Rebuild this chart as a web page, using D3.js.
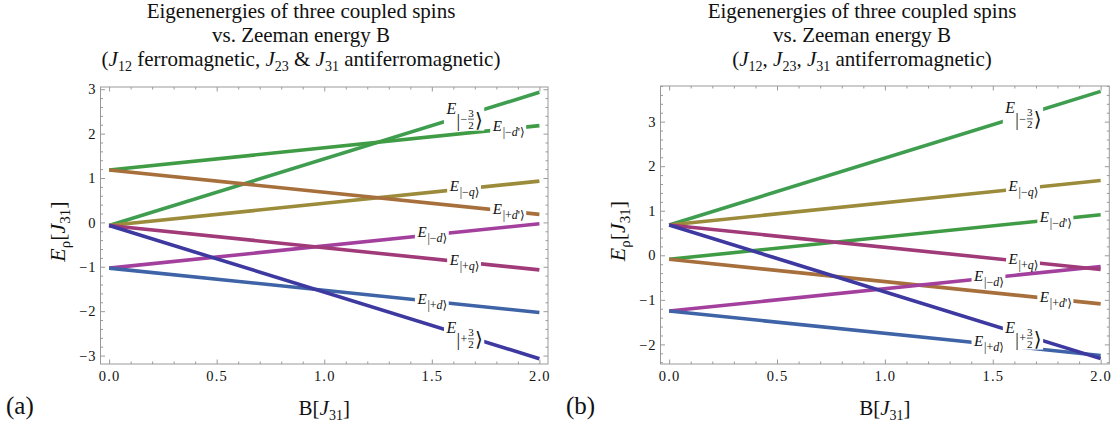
<!DOCTYPE html>
<html>
<head>
<meta charset="utf-8">
<script src="https://cdn.jsdelivr.net/npm/d3@7"></script>
<style>
  body { margin: 0; background: #fff; }
  svg text { font-family: "Liberation Serif", "Times New Roman", serif; fill: #111; }
</style>
</head>
<body>
<svg id="chart" width="1119" height="425"></svg>
<script>
// B range (lines are straight between the two ends)
var bValues = [0, 2];

// levels, same order in both panels
var levelKeys = ["-3/2", "-d'", "-q", "+d'", "-d", "+q", "+d", "+3/2"];
var levelColors = ["#3e9d4f", "#3f9c45", "#9c8b3b", "#a66f3c", "#a3409e", "#a03a78", "#3e63a6", "#3d39a0"];

// panel (a): J12 ferro, J23 & J31 antiferro
var energyStartA = [-0.07, 1.18, -0.07, 1.18, -1.03, -0.07, -1.03, -0.07];
var energyEndA   = [2.93, 2.18, 0.93, 0.18, -0.03, -1.07, -2.03, -3.07];
var labelAtA     = [1.65, 1.855, 1.65, 1.855, 1.5, 1.65, 1.5, 1.65];

// panel (b): all antiferro
var energyStartB = [0.68, -0.09, 0.68, -0.09, -1.25, 0.68, -1.25, 0.68];
var energyEndB   = [3.68, 0.91, 1.68, -1.09, -0.25, -0.32, -2.25, -2.32];
var labelAtB     = [1.64, 1.79, 1.64, 1.79, 1.48, 1.64, 1.48, 1.64];

var xTicks = [0, 0.5, 1, 1.5, 2];
var yTicksA = [-3, -2, -1, 0, 1, 2, 3];
var yTicksB = [-2, -1, 0, 1, 2, 3];

var svg = d3.select("#chart");

var panels = [
  {
    left: 100.5, right: 548, top: 87, bottom: 364,
    yDomain: [-3.19, 3.05], starts: energyStartA, ends: energyEndA, labelAt: labelAtA, yTicks: yTicksA,
    titleX: 301, yLabelX: 65, tag: "(a)", tagX: 6,
    title3: [["(", ""], ["J", "i"], ["12", "s"], [" ferromagnetic, ", ""], ["J", "i"], ["23", "s"], [" & ", ""], ["J", "i"], ["31", "s"], [" antiferromagnetic)", ""]]
  },
  {
    left: 660.5, right: 1109.3, top: 86, bottom: 364,
    yDomain: [-2.44, 3.80], starts: energyStartB, ends: energyEndB, labelAt: labelAtB, yTicks: yTicksB,
    titleX: 862, yLabelX: 625, tag: "(b)", tagX: 566,
    title3: [["(", ""], ["J", "i"], ["12", "s"], [", ", ""], ["J", "i"], ["23", "s"], [", ", ""], ["J", "i"], ["31", "s"], [" antiferromagnetic)", ""]]
  }
];

function richText(sel, parts, subSize, shift) {
  var down = false;
  parts.forEach(function(p) {
    var t = sel.append("tspan").text(p[0]);
    if (p[1] == "i") t.style("font-style", "italic");
    if (p[1] == "s") {
      t.style("font-size", subSize + "px").attr("dy", shift);
      down = true;
    } else if (down) {
      t.attr("dy", -shift);
      down = false;
    }
  });
}

function addLabel(g, key, cx, cy) {
  var sign = key[0] == "-" ? "\u2212" : "+";
  var rest = key.slice(1);
  var lg = g.append("g");
  if (rest == "3/2") {
    lg.append("text").attr("x", 0).attr("y", 0).style("font-style", "italic").style("font-size", "16px").text("E");
    lg.append("text").attr("x", 10).attr("y", 13).style("font-size", "18px").text("|");
    lg.append("text").attr("x", 14).attr("y", 9.5).style("font-size", "12px").text(sign);
    lg.append("text").attr("x", 24.5).attr("y", 3).attr("text-anchor", "middle").style("font-size", "11px").text("3");
    lg.append("line").attr("x1", 21.5).attr("x2", 27.5).attr("y1", 5.5).attr("y2", 5.5)
      .attr("stroke", "#111").attr("stroke-width", 0.7);
    lg.append("text").attr("x", 24.5).attr("y", 15).attr("text-anchor", "middle").style("font-size", "11px").text("2");
    lg.append("text").attr("x", 28.5).attr("y", 13).style("font-family", "'DejaVu Serif', serif").style("font-size", "20px").text("\u27e9");
  } else {
    lg.append("text").attr("x", 0).attr("y", 0).style("font-style", "italic").style("font-size", "15px").text("E");
    var sub = lg.append("text").attr("x", 10).attr("y", 5).style("font-size", "12px");
    sub.append("tspan").text("|" + sign);
    sub.append("tspan").style("font-style", "italic").text(rest[0]);
    if (rest.length > 1) sub.append("tspan").text("'");
    sub.append("tspan").style("font-family", "'DejaVu Serif', serif").text("\u27e9");
  }
  var bb = lg.node().getBBox();
  var pad = 1.5;
  lg.insert("rect", ":first-child")
    .attr("x", bb.x - pad).attr("y", bb.y + 2)
    .attr("width", bb.width + 2 * pad).attr("height", bb.height - 3)
    .attr("fill", "#fff");
  lg.attr("transform", "translate(" + (cx - bb.x - bb.width / 2) + "," + (cy - bb.y - bb.height / 2) + ")");
}

panels.forEach(function(p) {
  var x = d3.scaleLinear().domain([-0.04, 2.04]).range([p.left, p.right]);
  var y = d3.scaleLinear().domain(p.yDomain).range([p.bottom, p.top]);
  var g = svg.append("g");

  // title, three centred lines
  var tt = g.append("text").style("font-size", "21px");
  tt.append("tspan").attr("x", p.titleX).attr("y", 17.5).attr("text-anchor", "middle").text("Eigenenergies of three coupled spins");
  tt.append("tspan").attr("x", p.titleX).attr("y", 41.5).attr("text-anchor", "middle").text("vs. Zeeman energy B");
  richText(tt, p.title3, 14, 5);
  var pieces = tt.selectAll("tspan").filter(function(d, i) { return i >= 2; });
  var w = 0;
  pieces.each(function() { w += this.getComputedTextLength(); });
  pieces.filter(function(d, i) { return i == 0; }).attr("x", p.titleX - w / 2).attr("y", 65.5);

  // frame
  g.append("rect")
    .attr("x", p.left).attr("y", p.top)
    .attr("width", p.right - p.left).attr("height", p.bottom - p.top)
    .attr("fill", "none").attr("stroke", "#9a9a9a").attr("stroke-width", 1);

  var xMinor = d3.range(0, 21).map(function(i) { return i / 10; }).filter(function(v) { return xTicks.indexOf(v) < 0; });
  var yMinor = d3.range(Math.ceil(p.yDomain[0] * 5), Math.floor(p.yDomain[1] * 5) + 1)
    .map(function(i) { return i / 5; })
    .filter(function(v) { return Math.abs(v - Math.round(v)) > 1e-6; });

  function ticks(axis, tr, vals, size, labels) {
    var a = g.append("g").attr("transform", tr)
      .call(axis.tickValues(vals).tickSize(size).tickPadding(6)
        .tickFormat(labels ? labels : function() { return ""; }));
    a.select(".domain").remove();
    a.selectAll("line").attr("stroke", "#9a9a9a");
    a.selectAll("text").style("font-family", "'Liberation Serif', serif").style("font-size", "14.5px").attr("fill", "#222");
    return a;
  }
  var ax = ticks(d3.axisBottom(x), "translate(0," + p.bottom + ")", xTicks, -4.5, d3.format(".1f"));
  ax.selectAll("text").attr("dy", null).attr("y", 17).style("letter-spacing", "1.2px");
  ticks(d3.axisBottom(x), "translate(0," + p.bottom + ")", xMinor, -2.5, null);
  ticks(d3.axisTop(x), "translate(0," + p.top + ")", xTicks, -4.5, null);
  ticks(d3.axisTop(x), "translate(0," + p.top + ")", xMinor, -2.5, null);
  var ay = ticks(d3.axisLeft(y), "translate(" + p.left + ",0)", p.yTicks, -4.5, d3.format("d"));
  ay.selectAll("text").attr("x", -4).style("letter-spacing", "1px");
  ticks(d3.axisLeft(y), "translate(" + p.left + ",0)", yMinor, -2.5, null);
  ticks(d3.axisRight(y), "translate(" + p.right + ",0)", p.yTicks, -4.5, null);
  ticks(d3.axisRight(y), "translate(" + p.right + ",0)", yMinor, -2.5, null);

  // level lines
  var line = d3.line().x(function(d) { return x(d[0]); }).y(function(d) { return y(d[1]); });
  levelKeys.forEach(function(k, i) {
    var pts = [[bValues[0], p.starts[i]], [bValues[1], p.ends[i]]];
    g.append("path").attr("d", line(pts))
      .attr("fill", "none").attr("stroke", levelColors[i]).attr("stroke-width", 3.6);
  });

  // labels on the lines
  levelKeys.forEach(function(k, i) {
    var onLine = d3.scaleLinear().domain(bValues).range([p.starts[i], p.ends[i]]);
    var b = p.labelAt[i];
    addLabel(g, k, x(b), y(onLine(b)));
  });

  // axis labels
  var xl = g.append("text").attr("x", (p.left + p.right) / 2).attr("y", 415)
    .attr("text-anchor", "middle").style("font-size", "21px");
  richText(xl, [["B[", ""], ["J", "i"], ["31", "s"], ["]", ""]], 14, 5);

  var yl = g.append("text")
    .attr("transform", "translate(" + p.yLabelX + "," + ((p.top + p.bottom) / 2 + 6) + ") rotate(-90)")
    .attr("text-anchor", "middle").style("font-size", "22px");
  richText(yl, [["E", "i"], ["\u03c1", "s"], ["[", ""], ["J", "i"], ["31", "s"], ["]", ""]], 15, 5);

  g.append("text").attr("x", p.tagX).attr("y", 414).style("font-size", "25px").text(p.tag);
});
</script>
</body>
</html>
